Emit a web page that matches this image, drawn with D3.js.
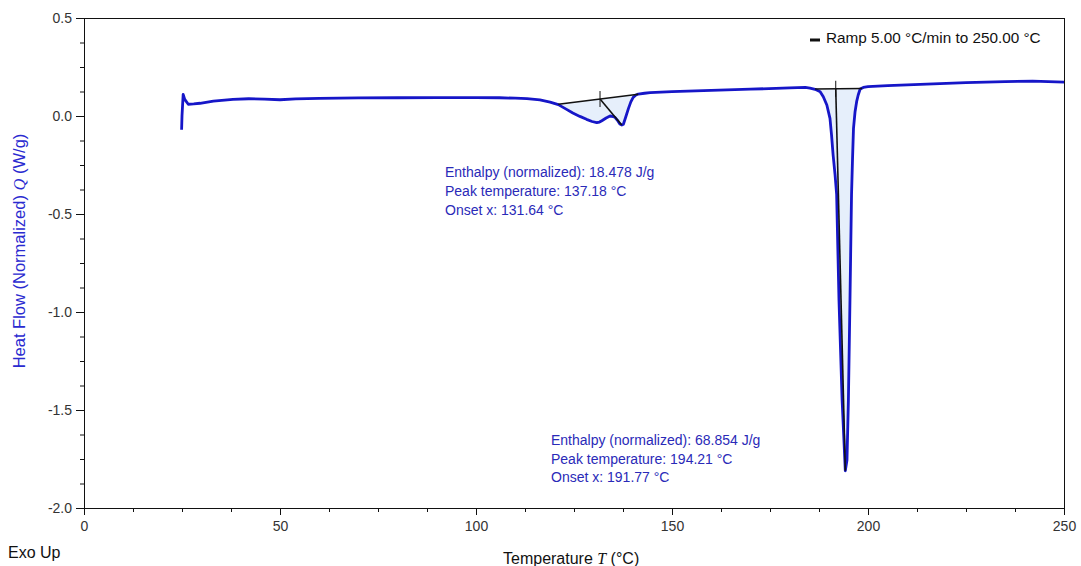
<!DOCTYPE html>
<html><head><meta charset="utf-8">
<script src="https://cdn.jsdelivr.net/npm/d3@7"></script>
<style>
body{margin:0;background:#fff}
svg{display:block}
text{font-family:"Liberation Sans",Arial,sans-serif}
</style>
</head><body>
<svg id="c" width="1081" height="566"></svg>
<script>
// ---- data ----
const temperature = [
  24.9, 25.0, 25.3, 25.7, 26.6, 28.0, 29.6, 33.0, 38.0, 42.0, 46.0, 50.0, 54.0, 60.0, 70.0, 80.0, 90.0, 100.0,
  106.0, 110.0, 113.0, 116.3, 118.9, 121.0, 123.0, 124.7, 126.5, 128.2, 129.6, 130.8, 131.5, 132.1, 133.2, 134.2,
  135.0, 135.5, 136.2, 136.7, 137.2, 137.6, 138.2, 138.9, 139.5, 140.1, 140.8, 141.4, 143.0, 144.4, 150.0, 160.0,
  170.0, 180.0, 184.0, 185.2, 186.5, 187.8, 188.6, 189.5, 190.3, 190.7, 191.1, 191.6, 192.0, 192.6, 193.4, 194.21,
  194.64, 195.0, 195.4, 195.8, 196.05, 196.3, 196.7, 197.1, 197.5, 198.0, 198.8, 200.0, 205.0, 215.0, 225.0, 235.0,
  242.0, 250.0
];
const heatFlow = [
  -0.07, 0.0, 0.11, 0.085, 0.06, 0.062, 0.065, 0.076, 0.085, 0.088, 0.086, 0.083, 0.087, 0.09, 0.092, 0.093, 0.094, 0.094,
  0.093, 0.091, 0.089, 0.082, 0.071, 0.058, 0.035, 0.015, -0.002, -0.017, -0.028, -0.034, -0.031, -0.024, -0.01, 0.0,
  -0.003, -0.008, -0.025, -0.041, -0.046, -0.042, -0.005, 0.039, 0.072, 0.095, 0.107, 0.112, 0.116, 0.119, 0.124, 0.131,
  0.137, 0.143, 0.146, 0.142, 0.136, 0.124, 0.098, 0.056, -0.012, -0.097, -0.199, -0.30, -0.40, -0.94, -1.45, -1.81,
  -1.755, -1.45, -0.94, -0.40, -0.22, -0.063, 0.022, 0.073, 0.107, 0.138, 0.146, 0.15, 0.155, 0.163, 0.17, 0.175,
  0.178, 0.173
];
const xTickValues = [0, 50, 100, 150, 200, 250];
const yTickValues = [0.5, 0.0, -0.5, -1.0, -1.5, -2.0];
const baselineStartT = [121.0, 186.5];
const baselineStartQ = [0.06, 0.138];
const baselineEndT = [141.4, 198.5];
const baselineEndQ = [0.111, 0.140];
const onsetTemps = [131.64, 191.77];
const peakTemps = [137.18, 194.21];
const peakHeat = [-0.046, -1.81];
const enthalpies = ["18.478", "68.854"];
const peakTempLabels = ["137.18", "194.21"];
const onsetLabels = ["131.64", "191.77"];
const legendLabel = "Ramp 5.00 °C/min to 250.00 °C";

// ---- layout ----
const svg = d3.select("#c");
const L = 84, R = 1064, T = 18, B = 508;
const x = d3.scaleLinear().domain([0, 250]).range([L, R]);
const y = d3.scaleLinear().domain([-2, 0.5]).range([B, T]);
const blue = "#1616c8";
const txtBlue = "#2a2ab8";

const data = temperature.map((t, i) => ({t, q: heatFlow[i]}));

// fills between baseline and curve
for (let k = 0; k < 2; k++) {
  const t0 = baselineStartT[k], t1 = baselineEndT[k];
  const bq = t => baselineStartQ[k] + (t - t0) / (t1 - t0) * (baselineEndQ[k] - baselineStartQ[k]);
  const seg = [{t: t0, q: bq(t0)}].concat(data.filter(d => d.t > t0 && d.t < t1), [{t: t1, q: bq(t1)}]);
  svg.append("path")
    .attr("d", d3.area().x(d => x(d.t)).y0(d => y(bq(d.t))).y1(d => y(d.q))(seg))
    .attr("fill", "#e6effb");
}

// curve
svg.append("path")
  .attr("d", d3.line().x(d => x(d.t)).y(d => y(d.q))(data))
  .attr("fill", "none").attr("stroke", blue).attr("stroke-width", 2.8)
  .attr("stroke-linejoin", "round");

// baselines, onset markers, onset->peak lines
for (let k = 0; k < 2; k++) {
  const t0 = baselineStartT[k], t1 = baselineEndT[k];
  const bq = t => baselineStartQ[k] + (t - t0) / (t1 - t0) * (baselineEndQ[k] - baselineStartQ[k]);
  const g = svg.append("g").attr("stroke", "#111").attr("fill", "none");
  g.append("line").attr("x1", x(t0)).attr("y1", y(baselineStartQ[k]))
    .attr("x2", x(t1)).attr("y2", y(baselineEndQ[k])).attr("stroke-width", 1.6);
  const ox = x(onsetTemps[k]), oy = y(bq(onsetTemps[k]));
  g.append("line").attr("x1", ox).attr("y1", oy - 8).attr("x2", ox).attr("y2", oy + 8).attr("stroke-width", 1);
  g.append("line").attr("x1", ox).attr("y1", oy).attr("x2", x(peakTemps[k])).attr("y2", y(peakHeat[k]))
    .attr("stroke-width", 1.6);
}

// axes
const fmt = d => d.toFixed(1);
const yMinor = d3.range(-2, 0.5001, 0.125).filter(v => Math.abs(v * 2 - Math.round(v * 2)) > 1e-6);
const xMinor = d3.range(0, 250.001, 12.5).filter(v => v % 50 !== 0);

svg.append("g").attr("transform", `translate(${L},0)`)
  .call(d3.axisLeft(y).tickValues(yTickValues).tickFormat(fmt).tickSize(8).tickPadding(4));
svg.append("g").attr("transform", `translate(${L},0)`)
  .call(d3.axisLeft(y).tickValues(yMinor).tickFormat("").tickSize(4))
  .call(g => g.select(".domain").remove());
svg.append("g").attr("transform", `translate(0,${B})`)
  .call(d3.axisBottom(x).tickValues(xTickValues).tickFormat(d => d).tickSize(7).tickPadding(6));
svg.append("g").attr("transform", `translate(0,${B})`)
  .call(d3.axisBottom(x).tickValues(xMinor).tickFormat("").tickSize(4))
  .call(g => g.select(".domain").remove());
svg.selectAll(".tick text").attr("font-size", 14).attr("fill", "#333")
  .attr("font-family", "'Liberation Sans', Arial, sans-serif");
svg.selectAll(".domain").attr("stroke", "#111");
svg.selectAll(".tick line").attr("stroke", "#111");

// box top/right
svg.append("line").attr("x1", L).attr("y1", T + 0.5).attr("x2", R).attr("y2", T + 0.5).attr("stroke", "#111");
svg.append("line").attr("x1", R + 0.5).attr("y1", T).attr("x2", R + 0.5).attr("y2", B).attr("stroke", "#111");

// legend
svg.append("line").attr("x1", 810).attr("y1", 40).attr("x2", 820).attr("y2", 40)
  .attr("stroke", "#111").attr("stroke-width", 3);
svg.append("text").attr("x", 826).attr("y", 43).attr("font-size", 15.3).attr("fill", "#111").text(legendLabel);

// annotations
const annPos = [[445, 177, 19], [551, 445, 18.5]];
for (let k = 0; k < 2; k++) {
  const [ax, ay, dy] = annPos[k];
  const lines = [
    `Enthalpy (normalized): ${enthalpies[k]} J/g`,
    `Peak temperature: ${peakTempLabels[k]} °C`,
    `Onset x: ${onsetLabels[k]} °C`
  ];
  lines.forEach((s, i) => svg.append("text").attr("x", ax).attr("y", ay + i * dy)
    .attr("font-size", 14).attr("fill", txtBlue).text(s));
}

// axis titles
const yt = svg.append("text").attr("transform", "translate(25,251) rotate(-90)")
  .attr("text-anchor", "middle").attr("font-size", 16.5).attr("fill", "#2a2ad0");
yt.append("tspan").text("Heat Flow (Normalized) ");
yt.append("tspan").attr("font-family", "'Liberation Serif', serif").attr("font-style", "italic").text("Q");
yt.append("tspan").text(" (W/g)");

const xt = svg.append("text").attr("x", 503).attr("y", 564).attr("font-size", 16).attr("fill", "#111");
xt.append("tspan").text("Temperature ");
xt.append("tspan").attr("font-family", "'Liberation Serif', serif").attr("font-style", "italic").text("T");
xt.append("tspan").text(" (°C)");

svg.append("text").attr("x", 8).attr("y", 558).attr("font-size", 16).attr("fill", "#111").text("Exo Up");
</script>
</body></html>
